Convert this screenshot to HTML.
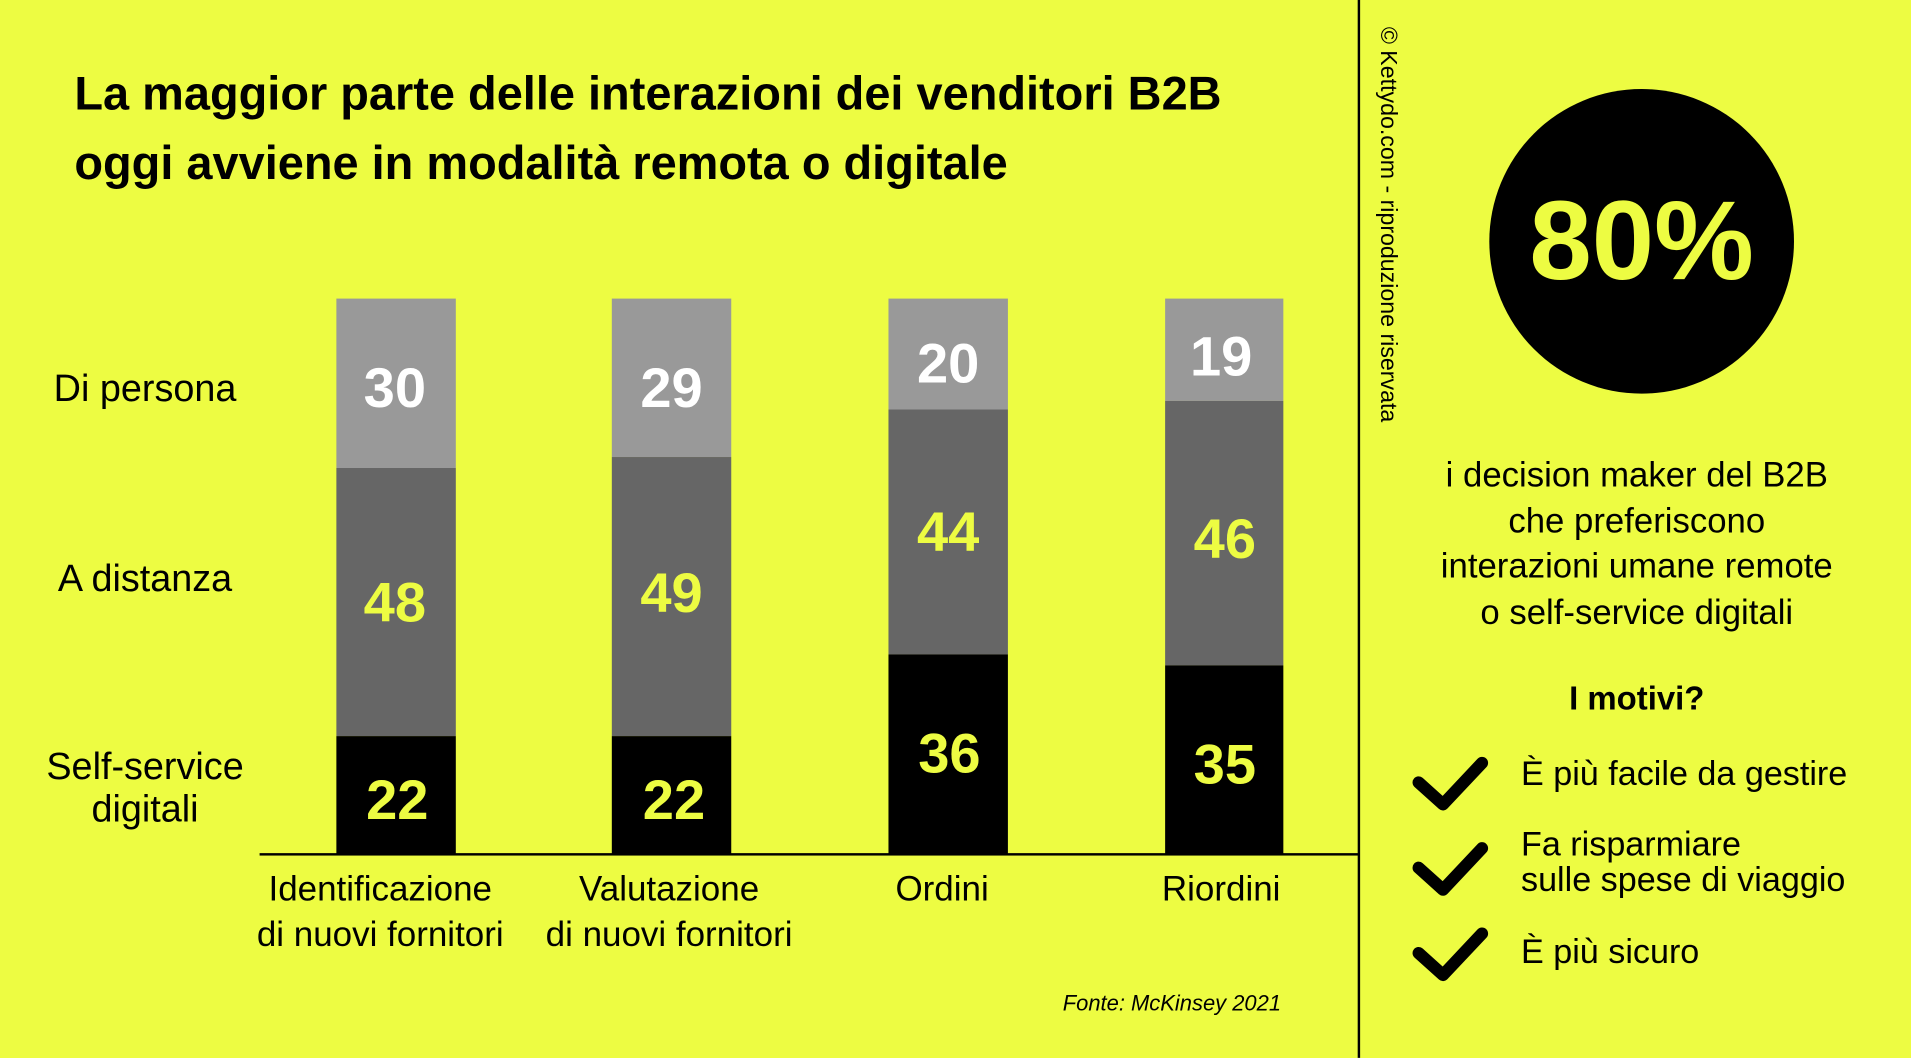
<!DOCTYPE html>
<html><head><meta charset="utf-8"><style>
html,body{margin:0;padding:0;width:1911px;height:1058px;overflow:hidden;background:#edfc42;}
#c{position:absolute;left:0;top:0;width:1568px;height:868px;transform:scale(1.21875);transform-origin:0 0;font-family:"Liberation Sans",sans-serif;color:#000;}
.a{position:absolute;white-space:nowrap;}
.bar{position:absolute;}
.n{position:absolute;width:98px;text-align:center;font-size:46px;line-height:46px;font-weight:bold;}
.lbl{position:absolute;text-align:center;font-size:28.7px;line-height:37px;width:260px;}
.chk{position:absolute;}
</style></head><body><div id="c">
<div class="a" style="left:61px;top:49px;font-size:38.5px;font-weight:bold;line-height:57px;">La maggior parte delle interazioni dei venditori B2B<br>oggi avviene in modalità remota o digitale</div>

<div class="bar" style="left:276px;top:245px;width:98px;height:139px;background:#999"></div>
<div class="bar" style="left:276px;top:384px;width:98px;height:220px;background:#666"></div>
<div class="bar" style="left:276px;top:604px;width:98px;height:97px;background:#000"></div>
<div class="bar" style="left:502px;top:245px;width:98px;height:130px;background:#999"></div>
<div class="bar" style="left:502px;top:375px;width:98px;height:229px;background:#666"></div>
<div class="bar" style="left:502px;top:604px;width:98px;height:97px;background:#000"></div>
<div class="bar" style="left:729px;top:245px;width:98px;height:91px;background:#999"></div>
<div class="bar" style="left:729px;top:336px;width:98px;height:201px;background:#666"></div>
<div class="bar" style="left:729px;top:537px;width:98px;height:164px;background:#000"></div>
<div class="bar" style="left:956px;top:245px;width:97px;height:84px;background:#999"></div>
<div class="bar" style="left:956px;top:329px;width:97px;height:217px;background:#666"></div>
<div class="bar" style="left:956px;top:546px;width:97px;height:155px;background:#000"></div>

<div class="n" style="left:275px;top:295px;color:#fff">30</div>
<div class="n" style="left:275px;top:471px;color:#edfc42">48</div>
<div class="n" style="left:277px;top:633px;color:#edfc42">22</div>
<div class="n" style="left:502px;top:295px;color:#fff">29</div>
<div class="n" style="left:502px;top:463px;color:#edfc42">49</div>
<div class="n" style="left:504px;top:633px;color:#edfc42">22</div>
<div class="n" style="left:729px;top:275px;color:#fff">20</div>
<div class="n" style="left:729px;top:413px;color:#edfc42">44</div>
<div class="n" style="left:730px;top:595px;color:#edfc42">36</div>
<div class="n" style="left:953px;top:269px;color:#fff">19</div>
<div class="n" style="left:956px;top:419px;color:#edfc42">46</div>
<div class="n" style="left:956px;top:604px;color:#edfc42">35</div>

<div class="a" style="left:213px;top:700px;width:902px;height:2px;background:#000"></div>
<div class="a" style="left:1114px;top:0;width:2px;height:868px;background:#000"></div>

<div class="lbl" style="left:-11px;top:300px;font-size:31px">Di persona</div>
<div class="lbl" style="left:-11px;top:456px;font-size:31px">A distanza</div>
<div class="lbl" style="left:-11px;top:611px;font-size:31px;line-height:35px">Self-service<br>digitali</div>

<div class="lbl" style="left:182px;top:712px">Identificazione<br>di nuovi fornitori</div>
<div class="lbl" style="left:419px;top:712px">Valutazione<br>di nuovi fornitori</div>
<div class="lbl" style="left:643px;top:712px">Ordini</div>
<div class="lbl" style="left:872px;top:712px">Riordini</div>

<div class="a" style="left:872px;top:813px;font-size:18px;font-style:italic">Fonte: McKinsey 2021</div>

<div class="a" style="left:1124px;top:22px;font-size:19px;transform-origin:0 0;transform:translate(25px,0) rotate(90deg);">© Kettydo.com - riproduzione riservata</div>

<div class="a" style="left:1222px;top:73px;width:250px;height:250px;border-radius:50%;background:#000"></div>
<div class="a" style="left:1222px;top:150px;width:250px;text-align:center;font-size:92px;line-height:96px;font-weight:bold;color:#edfc42">80%</div>

<div class="a" style="left:1143px;top:372px;width:400px;text-align:center;font-size:28.5px;line-height:37.5px">i decision maker del B2B<br>che preferiscono<br>interazioni umane remote<br>o self-service digitali</div>
<div class="a" style="left:1143px;top:558px;width:400px;text-align:center;font-size:27px;font-weight:bold">I motivi?</div>

<svg class="chk" style="left:1158px;top:618px" width="64" height="50"><polyline points="6,24 26,42 58,8" fill="none" stroke="#000" stroke-width="10" stroke-linecap="round" stroke-linejoin="round"/></svg>
<svg class="chk" style="left:1158px;top:688px" width="64" height="50"><polyline points="6,24 26,42 58,8" fill="none" stroke="#000" stroke-width="10" stroke-linecap="round" stroke-linejoin="round"/></svg>
<svg class="chk" style="left:1158px;top:758px" width="64" height="50"><polyline points="6,24 26,42 58,8" fill="none" stroke="#000" stroke-width="10" stroke-linecap="round" stroke-linejoin="round"/></svg>

<div class="a" style="left:1248px;top:619px;font-size:28px">È più facile da gestire</div>
<div class="a" style="left:1248px;top:678px;font-size:28px;line-height:29px">Fa risparmiare<br>sulle spese di viaggio</div>
<div class="a" style="left:1248px;top:765px;font-size:28px">È più sicuro</div>
</div></body></html>
